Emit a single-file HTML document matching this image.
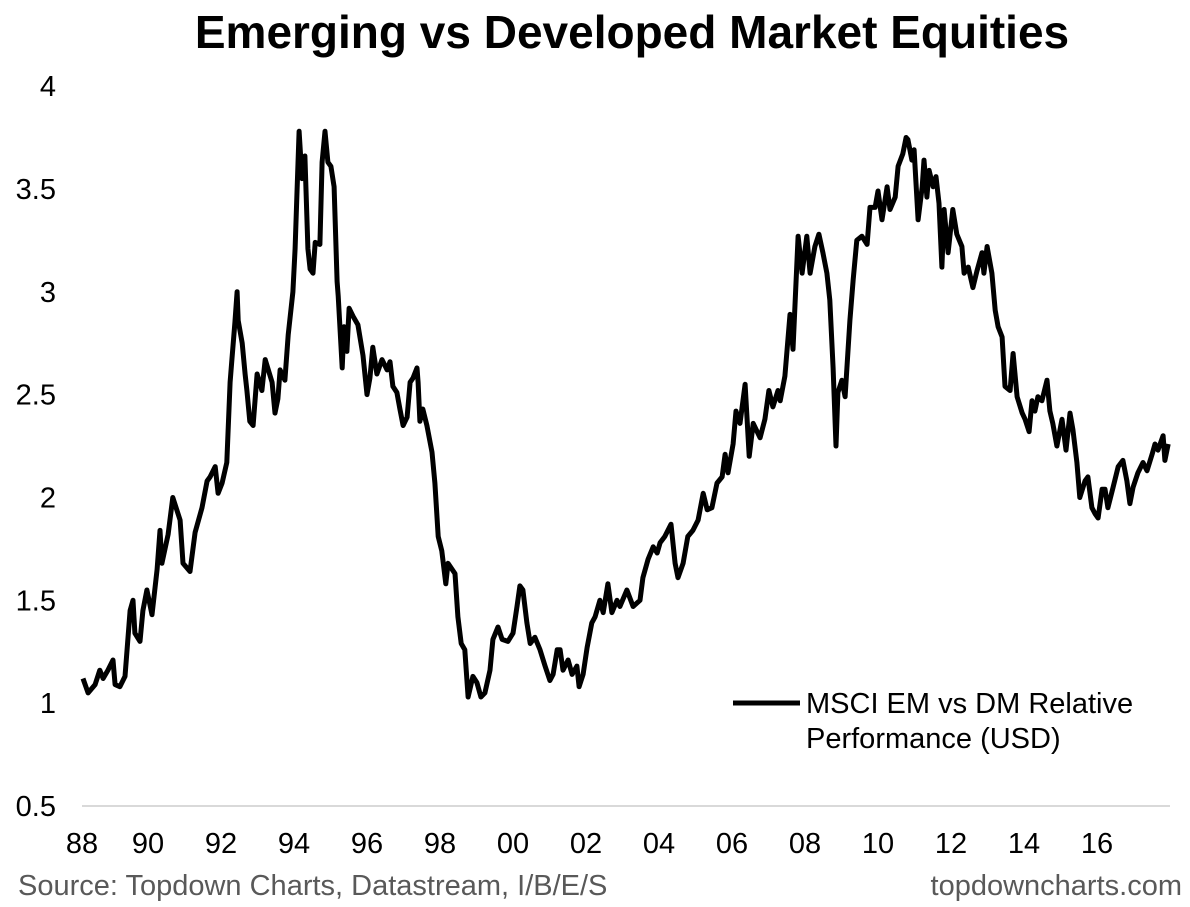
<!DOCTYPE html>
<html><head><meta charset="utf-8">
<style>
html,body{margin:0;padding:0;background:#fff;}
svg{display:block;font-family:"Liberation Sans",Arial,sans-serif;}
</style></head>
<body>
<svg id="chart" width="1190" height="907" viewBox="0 0 1190 907">
<text x="632" y="48" text-anchor="middle" font-size="46" font-weight="bold" fill="#000">Emerging vs Developed Market Equities</text>
<g id="yaxis"></g>
<g id="xaxis"></g>
<line x1="82" y1="806" x2="1170" y2="806" stroke="#d9d9d9" stroke-width="2"/>
<g id="series"></g>
<g>
<line x1="733" y1="703" x2="800" y2="703" stroke="#000" stroke-width="5"/>
<text x="806" y="713" font-size="29" fill="#000">MSCI EM vs DM Relative</text>
<text x="806" y="748" font-size="29" fill="#000">Performance (USD)</text>
</g>
<text x="18" y="895" font-size="29" fill="#595959">Source: Topdown Charts, Datastream, I/B/E/S</text>
<text x="1182" y="895" text-anchor="end" font-size="29" fill="#595959">topdowncharts.com</text>
</svg>
<script>
const yTicks = [0.5, 1, 1.5, 2, 2.5, 3, 3.5, 4];
const yTickLabels = ["0.5","1","1.5","2","2.5","3","3.5","4"];
const xTickYears = [1988,1990,1992,1994,1996,1998,2000,2002,2004,2006,2008,2010,2012,2014,2016];
const xTickLabels = ["88","90","92","94","96","98","00","02","04","06","08","10","12","14","16"];
const dates = [1988.22,1988.36,1988.55,1988.68,1988.77,1988.90,1989.04,1989.10,1989.23,1989.37,1989.51,1989.59,1989.64,1989.78,1989.86,1989.97,1990.11,1990.25,1990.33,1990.38,1990.55,1990.68,1990.88,1990.96,1991.15,1991.29,1991.48,1991.62,1991.70,1991.84,1991.92,1992.03,1992.16,1992.25,1992.30,1992.38,1992.44,1992.47,1992.58,1992.66,1992.71,1992.79,1992.88,1992.99,1993.12,1993.21,1993.40,1993.48,1993.56,1993.62,1993.75,1993.84,1993.97,1994.03,1994.08,1994.14,1994.22,1994.30,1994.38,1994.44,1994.52,1994.58,1994.71,1994.77,1994.85,1994.93,1995.01,1995.10,1995.18,1995.21,1995.32,1995.37,1995.45,1995.51,1995.62,1995.75,1995.89,1996.00,1996.08,1996.16,1996.27,1996.41,1996.55,1996.63,1996.71,1996.82,1996.90,1996.99,1997.10,1997.18,1997.26,1997.37,1997.40,1997.45,1997.53,1997.64,1997.78,1997.86,1997.95,1998.05,1998.16,1998.22,1998.41,1998.49,1998.58,1998.68,1998.77,1998.90,1999.01,1999.12,1999.23,1999.37,1999.45,1999.59,1999.70,1999.86,2000.00,2000.11,2000.19,2000.27,2000.38,2000.47,2000.60,2000.74,2000.88,2001.01,2001.10,2001.21,2001.29,2001.37,2001.51,2001.62,2001.75,2001.81,2001.92,2002.03,2002.16,2002.25,2002.38,2002.47,2002.60,2002.71,2002.85,2002.93,2003.12,2003.29,2003.48,2003.56,2003.70,2003.84,2003.95,2004.03,2004.16,2004.33,2004.44,2004.52,2004.66,2004.79,2004.93,2005.07,2005.21,2005.32,2005.45,2005.59,2005.73,2005.81,2005.89,2006.03,2006.11,2006.22,2006.36,2006.47,2006.58,2006.77,2006.90,2007.01,2007.12,2007.26,2007.32,2007.45,2007.59,2007.67,2007.81,2007.92,2008.05,2008.14,2008.27,2008.38,2008.49,2008.60,2008.68,2008.77,2008.85,2008.90,2009.01,2009.10,2009.23,2009.32,2009.42,2009.56,2009.70,2009.78,2009.92,2010.00,2010.11,2010.25,2010.33,2010.47,2010.55,2010.68,2010.77,2010.82,2010.93,2010.99,2011.10,2011.21,2011.26,2011.34,2011.40,2011.51,2011.59,2011.67,2011.75,2011.81,2011.92,2012.05,2012.16,2012.30,2012.36,2012.47,2012.60,2012.71,2012.85,2012.90,2012.99,2013.12,2013.21,2013.29,2013.40,2013.48,2013.62,2013.70,2013.81,2013.95,2014.03,2014.14,2014.22,2014.30,2014.38,2014.49,2014.63,2014.71,2014.79,2014.90,2015.04,2015.15,2015.26,2015.34,2015.45,2015.53,2015.67,2015.75,2015.86,2015.95,2016.03,2016.14,2016.22,2016.30,2016.44,2016.58,2016.71,2016.82,2016.90,2016.99,2017.12,2017.26,2017.37,2017.51,2017.59,2017.67,2017.81,2017.86,2017.95];
const values = [1.12,1.05,1.09,1.16,1.12,1.16,1.21,1.09,1.08,1.13,1.45,1.50,1.34,1.30,1.45,1.55,1.43,1.65,1.84,1.68,1.82,2.00,1.89,1.68,1.64,1.83,1.95,2.08,2.10,2.15,2.02,2.07,2.17,2.56,2.67,2.85,3.00,2.86,2.75,2.60,2.52,2.37,2.35,2.60,2.52,2.67,2.56,2.41,2.48,2.62,2.57,2.79,3.00,3.21,3.47,3.78,3.55,3.66,3.21,3.11,3.09,3.24,3.23,3.63,3.78,3.63,3.61,3.51,3.05,2.98,2.63,2.83,2.71,2.92,2.88,2.84,2.69,2.50,2.58,2.73,2.60,2.67,2.62,2.66,2.54,2.51,2.43,2.35,2.39,2.56,2.58,2.63,2.56,2.37,2.43,2.35,2.22,2.07,1.81,1.74,1.58,1.68,1.63,1.42,1.29,1.26,1.03,1.13,1.10,1.03,1.05,1.16,1.31,1.37,1.31,1.30,1.34,1.47,1.57,1.55,1.39,1.29,1.32,1.26,1.18,1.11,1.14,1.26,1.26,1.16,1.21,1.14,1.18,1.08,1.14,1.27,1.39,1.42,1.50,1.44,1.58,1.44,1.50,1.47,1.55,1.47,1.50,1.61,1.70,1.76,1.73,1.78,1.81,1.87,1.68,1.61,1.68,1.81,1.84,1.89,2.02,1.94,1.95,2.07,2.10,2.21,2.12,2.26,2.42,2.36,2.55,2.20,2.36,2.29,2.38,2.52,2.44,2.52,2.47,2.59,2.89,2.72,3.27,3.09,3.27,3.09,3.22,3.28,3.19,3.09,2.96,2.63,2.25,2.51,2.57,2.49,2.86,3.06,3.25,3.27,3.23,3.41,3.41,3.49,3.35,3.51,3.40,3.46,3.61,3.67,3.75,3.74,3.64,3.69,3.35,3.51,3.64,3.46,3.59,3.51,3.56,3.43,3.12,3.40,3.19,3.40,3.28,3.22,3.09,3.12,3.02,3.10,3.19,3.09,3.22,3.09,2.91,2.83,2.78,2.54,2.52,2.70,2.49,2.41,2.38,2.32,2.47,2.42,2.49,2.47,2.57,2.42,2.36,2.25,2.38,2.23,2.41,2.33,2.17,2.00,2.08,2.10,1.95,1.92,1.90,2.04,2.04,1.95,2.05,2.15,2.18,2.08,1.97,2.05,2.12,2.17,2.13,2.21,2.26,2.23,2.30,2.18,2.26];

const NS = "http://www.w3.org/2000/svg";
function xScale(yr){ return 75 + (yr - 1988) * 36.5; }
function yScale(v){ return 806 - (v - 0.5) * 205.7; }

const yAxis = document.getElementById('yaxis');
yTicks.forEach((t, i) => {
  const tx = document.createElementNS(NS, 'text');
  tx.setAttribute('x', 56);
  tx.setAttribute('y', yScale(t) + 10);
  tx.setAttribute('text-anchor', 'end');
  tx.setAttribute('font-size', '29');
  tx.textContent = yTickLabels[i];
  
  
  yAxis.appendChild(tx);
});

const xAxis = document.getElementById('xaxis');
xTickYears.forEach((yr, i) => {
  const tx = document.createElementNS(NS, 'text');
  tx.setAttribute('x', Math.max(xScale(yr), 82));
  tx.setAttribute('y', 853);
  tx.setAttribute('text-anchor', 'middle');
  tx.setAttribute('font-size', '29');
  tx.textContent = xTickLabels[i];
  
  
  xAxis.appendChild(tx);
});

const series = document.getElementById('series');
const path = document.createElementNS(NS, 'path');
let d = '';
dates.forEach((yr, i) => {
  d += (i === 0 ? 'M' : 'L') + xScale(yr).toFixed(1) + ',' + yScale(values[i]).toFixed(1);
});
path.setAttribute('d', d);
path.setAttribute('fill', 'none');
path.setAttribute('stroke', '#000');
path.setAttribute('stroke-width', '5');
path.setAttribute('stroke-linejoin', 'round');


series.appendChild(path);
</script>
</body></html>
